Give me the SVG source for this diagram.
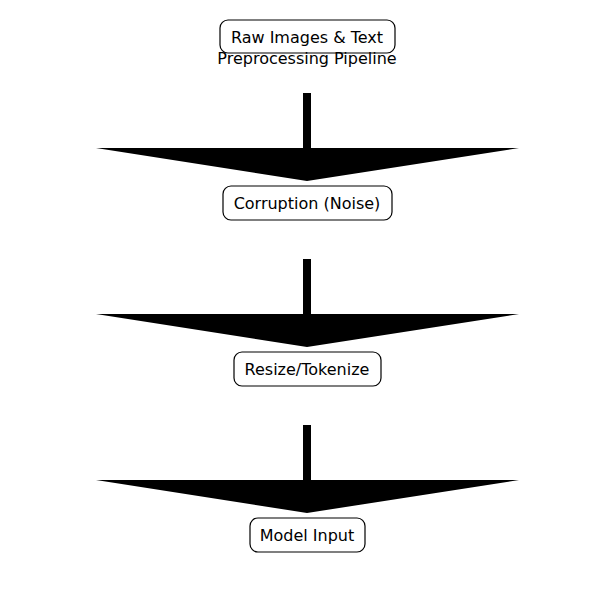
<svg xmlns="http://www.w3.org/2000/svg" width="600" height="600" viewBox="0 0 600 600">
<style>
.box{fill:#fff;stroke:#000;stroke-width:1.2}
text{font-family:"DejaVu Sans",sans-serif;font-size:16px;text-anchor:middle;fill:#000}
.arr{fill:#000}
</style>
<rect width="600" height="600" fill="#fff"/>
<g id="connectors">
<path class="arr" d="M303,93 H311 V148 H519 L307,181 L96,148 H303 Z"/>
<path class="arr" d="M303,259 H311 V314 H519 L307,347 L96,314 H303 Z"/>
<path class="arr" d="M303,425 H311 V480 H519 L307,513 L96,480 H303 Z"/>
</g>
<g id="raw"><rect class="box" x="220" y="20" width="175" height="33" rx="8"/><text x="307" y="43">Raw Images &amp; Text</text></g>
<text x="307" y="64">Preprocessing Pipeline</text>
<g id="corruption"><rect class="box" x="223" y="186" width="169" height="34" rx="8"/><text x="307" y="209">Corruption (Noise)</text></g>
<g id="resize"><rect class="box" x="234" y="352" width="147" height="34" rx="8"/><text x="307" y="375">Resize/Tokenize</text></g>
<g id="model"><rect class="box" x="250" y="518" width="115" height="34" rx="8"/><text x="307" y="541">Model Input</text></g>
</svg>
